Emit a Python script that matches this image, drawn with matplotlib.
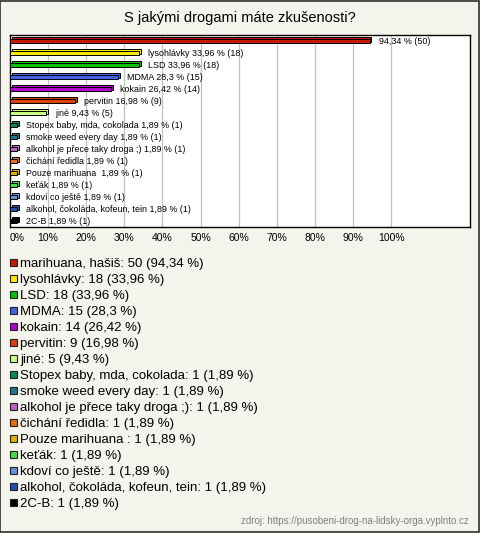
import matplotlib.pyplot as plt
from matplotlib.patches import Rectangle

plt.rcParams['font.family'] = ['Liberation Sans', 'DejaVu Sans']

TITLE = "S jakými drogami máte zkušenosti?"
SOURCE = "zdroj: https://pusobeni-drog-na-lidsky-orga.vyplnto.cz"

names = ["marihuana, hašiš", "lysohlávky", "LSD", "MDMA", "kokain", "pervitin", "jiné",
         "Stopex baby, mda, cokolada", "smoke weed every day", "alkohol je přece taky droga ;)",
         "čichání ředidla", "Pouze marihuana ", "keťák", "kdoví co ještě",
         "alkohol, čokoláda, kofeun, tein", "2C-B"]
counts = [50, 18, 18, 15, 14, 9, 5, 1, 1, 1, 1, 1, 1, 1, 1, 1]
pcts = [94.34, 33.96, 33.96, 28.3, 26.42, 16.98, 9.43, 1.89, 1.89, 1.89, 1.89, 1.89,
        1.89, 1.89, 1.89, 1.89]
pct_txt = ["94,34", "33,96", "33,96", "28,3", "26,42", "16,98", "9,43", "1,89", "1,89",
           "1,89", "1,89", "1,89", "1,89", "1,89", "1,89", "1,89"]
colors = ["#c41a00", "#ffe800", "#00c000", "#4062e4", "#b400cc", "#e04010", "#c8ff80",
          "#008a60", "#207890", "#c060c0", "#e07010", "#e0b000", "#40e040", "#6090e0",
          "#2050b0", "#000000"]
xticks = [0, 10, 20, 30, 40, 50, 60, 70, 80, 90, 100]

BG = "#f4f3ec"

fig = plt.figure(figsize=(4.8, 5.33), dpi=100)
fig.patch.set_facecolor(BG)
fig.patches.append(Rectangle((0.001, 0.001), 0.997, 0.997, transform=fig.transFigure,
                             fill=False, edgecolor="#303030", linewidth=1.2))

fig.text(0.5, 1 - 18 / 533, TITLE, ha="center", va="center", fontsize=10.5)

ax = fig.add_axes([10 / 480, 1 - 227 / 533, 460 / 480, 192 / 533])
ax.set_facecolor("white")
ys = list(range(len(names)))

# 3d-ish depth behind each bar
ax.barh([y - 0.12 for y in ys], pcts, left=0.5, height=0.38, color=colors,
        edgecolor="black", linewidth=0.7, zorder=2)
ax.barh(ys, pcts, height=0.38, color=colors, edgecolor="black", linewidth=0.7, zorder=3)

for i, y in enumerate(ys):
    if i == 0:
        lab = f"{pct_txt[i]} % ({counts[i]})"
    else:
        lab = f"{names[i]} {pct_txt[i]} % ({counts[i]})"
    ax.annotate(lab, (pcts[i], y), xytext=(9, 0), textcoords="offset pixels",
                ha="left", va="center", fontsize=6.4, zorder=4)

ax.set_xlim(0, 120.7)
ax.set_ylim(len(names) - 0.5, -0.5)
ax.set_xticks(xticks)
ax.set_xticklabels([f"{t}%" for t in xticks], fontsize=7.5)
ax.get_xticklabels()[0].set_ha("left")
ax.set_yticks([])
ax.tick_params(axis="x", length=0, pad=4)
ax.grid(axis="x", color="#c0c0c0", linewidth=0.9, zorder=0)
ax.set_axisbelow(True)
for s in ax.spines.values():
    s.set_color("black")
    s.set_linewidth(1)

# legend
for i, name in enumerate(names):
    yc = 1 - (262 + 16 * i) / 533
    fig.patches.append(Rectangle((10 / 480, yc - 3.5 / 533), 7 / 480, 7 / 533,
                                 transform=fig.transFigure, facecolor=colors[i],
                                 edgecolor="#202020", linewidth=0.8))
    fig.text(20 / 480, yc - 1.5 / 533, f"{name}: {counts[i]} ({pct_txt[i]} %)", ha="left",
             va="center", fontsize=9.5)

fig.text(469 / 480, 1 - 521 / 533, SOURCE, ha="right", va="center", fontsize=7,
         color="#808080")

fig.savefig("out.png", dpi=100, facecolor=BG)
